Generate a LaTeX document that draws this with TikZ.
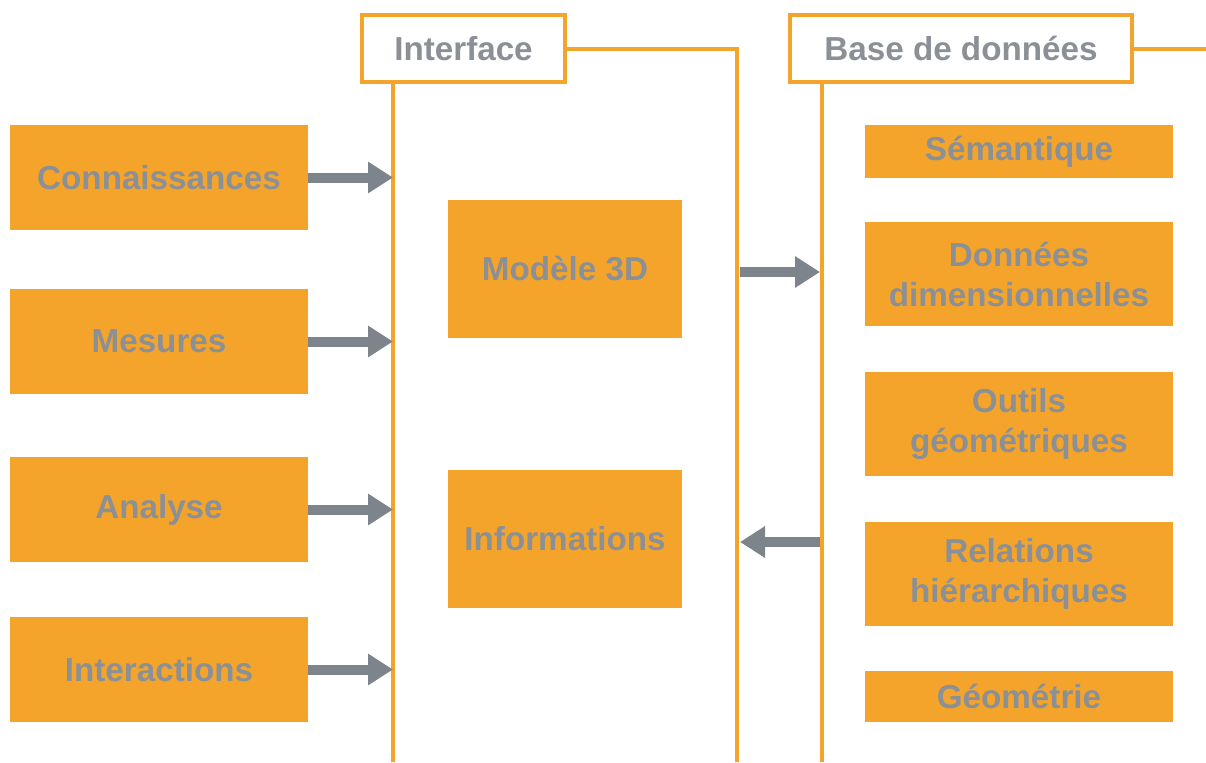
\documentclass[tikz,border=0pt]{standalone}
\usepackage{fontspec}
\setmainfont{Liberation Sans}
\usepackage{xcolor}
\usetikzlibrary{arrows.meta,positioning}

\definecolor{orng}{HTML}{F4A42A}
\definecolor{txtgray}{HTML}{8B9097}
\definecolor{arrgray}{HTML}{7E848B}

\begin{document}
\begin{tikzpicture}[
  x=0.5pt, y=-0.5pt,
  blk/.style={rectangle, fill=orng, text=txtgray, align=center,
              font=\fontsize{16.6pt}{20pt}\selectfont\bfseries, inner sep=0pt},
  ttl/.style={rectangle, draw=orng, line width=2pt, fill=white, text=txtgray,
              font=\fontsize{16.6pt}{20pt}\selectfont\bfseries, inner sep=0pt},
  frame/.style={draw=orng, line width=2pt},
  arr/.style={draw=arrgray, line width=5pt, -{Triangle[length=12.5pt, width=15pt]}}]
  \useasboundingbox[fill=white] (0,0) rectangle (1206,762);

  % left column
  \node[blk, minimum width=149pt, minimum height=52.5pt] (con) at (159,177.5) {Connaissances};
  \node[blk, minimum width=149pt, minimum height=52.5pt] (mes) at (159,341.5) {Mesures};
  \node[blk, minimum width=149pt, minimum height=52.5pt] (ana) at (159,509.5) {Analyse};
  \node[blk, minimum width=149pt, minimum height=52.5pt] (int) at (159,669.5) {Interactions};

  % interface panel
  \node[ttl, minimum width=101.5pt, minimum height=33.5pt] (iface) at (463.5,48.5) {Interface};
  \coordinate (ifL) at (393,762);
  \coordinate (ifR) at (737,762);
  \draw[frame] (iface.east) -| (ifR);
  \draw[frame] (iface.south -| ifL) -- (ifL);
  \node[blk, minimum width=117pt, minimum height=69pt] (mod) at (565,269) {Modèle 3D};
  \node[blk, minimum width=117pt, minimum height=69pt] (inf) at (565,538.5) {Informations};

  % base de donnees panel
  \node[ttl, minimum width=171pt, minimum height=33.5pt] (bdd) at (961,48.5) {Base de données};
  \coordinate (bdL) at (822,762);
  \coordinate (bdE) at (1206,48.5);
  \draw[frame] (bdd.east) -- (bdE);
  \draw[frame] (bdd.south -| bdL) -- (bdL);
  \node[blk, minimum width=154pt, minimum height=26.5pt] (sem) at (1019,151.5) {Sémantique};
  \node[blk, minimum width=154pt, minimum height=52pt] (dim) at (1019,274) {Données\\dimensionnelles};
  \node[blk, minimum width=154pt, minimum height=52pt] (out) at (1019,424) {Outils\\géométriques};
  \node[blk, minimum width=154pt, minimum height=52pt] (rel) at (1019,573.5) {Relations\\hiérarchiques};
  \node[blk, minimum width=154pt, minimum height=25.5pt] (geo) at (1019,696.5) {Géométrie};

  % arrows
  \draw[arr] (con.east) -- (con.east -| ifL);
  \draw[arr] (mes.east) -- (mes.east -| ifL);
  \draw[arr] (ana.east) -- (ana.east -| ifL);
  \draw[arr] (int.east) -- (int.east -| ifL);
  \coordinate (toB) at (820,272);
  \coordinate (fromB) at (820,542);
  \draw[arr] (toB -| ifR) ++(3,0) -- (toB);
  \draw[arr] (fromB) -- ([xshift=1.5pt]fromB -| ifR);
\end{tikzpicture}
\end{document}
